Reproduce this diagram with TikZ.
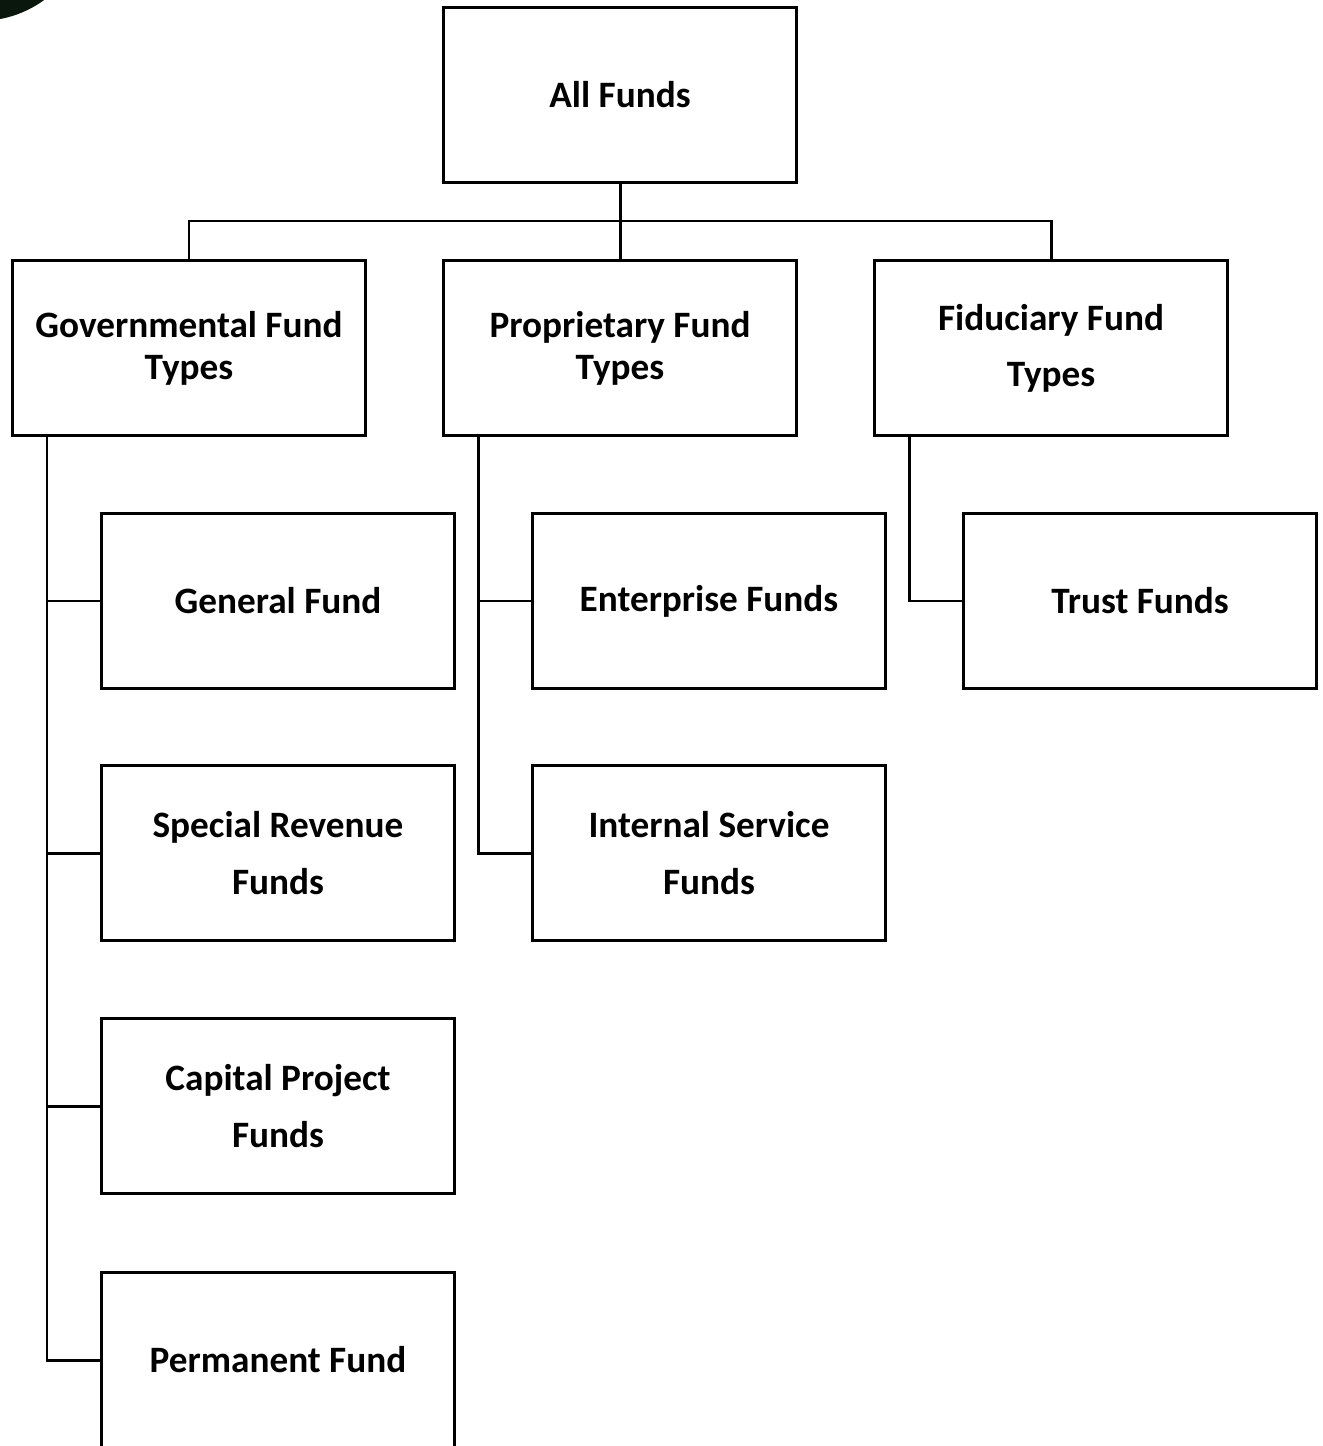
\documentclass[tikz,border=0pt]{standalone}
\usepackage{fontspec}
\setmainfont{Carlito}
\definecolor{cornercol}{HTML}{0A170C}
\begin{document}
\begin{tikzpicture}[x=0.02cm,y=-0.02cm,
  fundbox/.style={draw=black, line width=1.7pt, minimum width=7.06cm, minimum height=3.5cm,
    inner sep=0pt, align=center, font=\fontsize{21.2}{32}\selectfont\bfseries},
  tightbox/.style={fundbox, font=\fontsize{21.2}{23.8}\selectfont\bfseries},
  link/.style={draw=black, line width=1.7pt}]
\clip (0,0) rectangle (1322,1446);
\fill[white] (0,0) rectangle (1322,1446);
\fill[cornercol] (-20,-88) circle[radius=108.9];
% nodes
\node[fundbox] (all) at (620,95) {All Funds};
\node[tightbox] (gov) at (189,348) {Governmental Fund\\Types};
\node[tightbox] (prop) at (620,348) {Proprietary Fund\\Types};
\node[fundbox] (fid) at (1051,348) {Fiduciary Fund\\Types};
\node[fundbox] (general) at (278,601) {General Fund};
\node[fundbox] (special) at (278,853) {Special Revenue\\Funds};
\node[fundbox] (capital) at (278,1106) {Capital Project\\Funds};
\node[fundbox] (perm) at (278,1360) {Permanent Fund};
\node[fundbox] (enter) at (709,601) {Enterprise Funds};
\node[fundbox] (internal) at (709,853) {Internal Service\\Funds};
\node[fundbox] (trust) at (1140,601) {Trust Funds};
% top bus
\coordinate (bus) at (620,221);
\draw[link] (all.south) -- (prop.north);
\draw[link] (gov.north) -- (gov.north |- bus) -- (fid.north |- bus) -- (fid.north);
% governmental spine
\coordinate (gsp) at (47,437);
\draw[link] (gsp) |- (perm.west);
\draw[link] (gsp |- general.west) -- (general.west);
\draw[link] (gsp |- special.west) -- (special.west);
\draw[link] (gsp |- capital.west) -- (capital.west);
% proprietary spine
\coordinate (psp) at (478,437);
\draw[link] (psp) |- (internal.west);
\draw[link] (psp |- enter.west) -- (enter.west);
% fiduciary spine
\coordinate (fsp) at (909,437);
\draw[link] (fsp) |- (trust.west);
\end{tikzpicture}
\end{document}
